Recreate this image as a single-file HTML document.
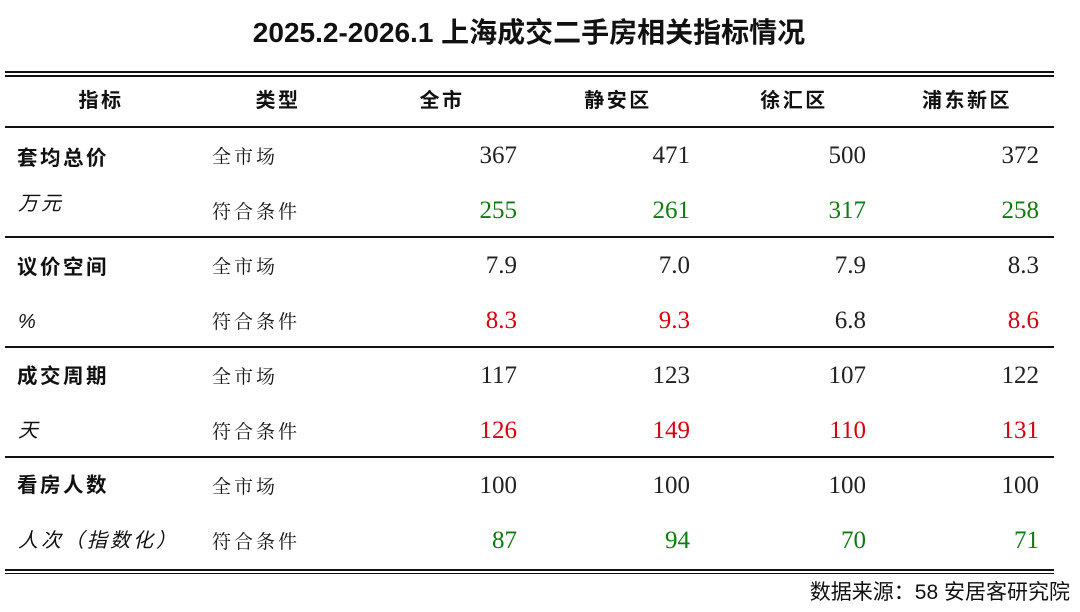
<!DOCTYPE html>
<html><head><meta charset="utf-8">
<style>
*{margin:0;padding:0;box-sizing:border-box}
html,body{width:1080px;height:612px;background:#fff;overflow:hidden}
body{position:relative;font-family:"Liberation Sans","Noto Sans CJK SC",sans-serif;color:#111}
.t{position:absolute;white-space:nowrap}
.title{left:0;width:1058px;top:14px;text-align:center;font-size:28px;font-weight:bold;line-height:38px;color:#111}
.ln{position:absolute;left:5px;width:1049px;background:#111}
.hd{font-size:20px;font-weight:bold;letter-spacing:2.5px;top:86px;line-height:30px;text-align:center;width:160px}
.lb{left:17px;font-size:20.5px;font-weight:bold;letter-spacing:2.5px;line-height:30px}
.sub{left:18px;font-size:20px;font-style:italic;letter-spacing:3px;line-height:30px}
.ty{left:212px;font-family:"Noto Serif CJK SC","Noto Sans CJK SC",serif;font-size:19px;letter-spacing:3px;line-height:30px;color:#111}
.n{font-family:"Liberation Serif",serif;font-size:25px;line-height:30px;text-align:right;width:100px;color:#222}
.g{color:#127a12}
.r{color:#d8000c}
.src{right:10px;top:579px;font-size:21px;line-height:28px;color:#111}
</style></head><body>
<div class="t title">2025.2-2026.1 上海成交二手房相关指标情况</div>

<div class="ln" style="top:71px;height:1.5px"></div>
<div class="ln" style="top:74.5px;height:2.5px"></div>
<div class="ln" style="top:126px;height:2px"></div>
<div class="ln" style="top:236px;height:2px"></div>
<div class="ln" style="top:346px;height:2px"></div>
<div class="ln" style="top:456px;height:2px"></div>
<div class="ln" style="top:568.5px;height:2.5px"></div>
<div class="ln" style="top:572.5px;height:1.5px"></div>

<div class="t hd" style="left:21px">指标</div>
<div class="t hd" style="left:198px">类型</div>
<div class="t hd" style="left:362px">全市</div>
<div class="t hd" style="left:538px">静安区</div>
<div class="t hd" style="left:714px">徐汇区</div>
<div class="t hd" style="left:887px">浦东新区</div>

<!-- group 1 -->
<div class="t lb" style="top:144px">套均总价</div>
<div class="t sub" style="top:189px">万元</div>
<div class="t ty" style="top:141px">全市场</div>
<div class="t ty" style="top:196px">符合条件</div>
<div class="t n" style="left:417px;top:141px">367</div>
<div class="t n" style="left:590px;top:141px">471</div>
<div class="t n" style="left:766px;top:141px">500</div>
<div class="t n" style="left:939px;top:141px">372</div>
<div class="t n g" style="left:417px;top:196px">255</div>
<div class="t n g" style="left:590px;top:196px">261</div>
<div class="t n g" style="left:766px;top:196px">317</div>
<div class="t n g" style="left:939px;top:196px">258</div>

<!-- group 2 -->
<div class="t lb" style="top:253px">议价空间</div>
<div class="t sub" style="top:307px">%</div>
<div class="t ty" style="top:251px">全市场</div>
<div class="t ty" style="top:306px">符合条件</div>
<div class="t n" style="left:417px;top:251px">7.9</div>
<div class="t n" style="left:590px;top:251px">7.0</div>
<div class="t n" style="left:766px;top:251px">7.9</div>
<div class="t n" style="left:939px;top:251px">8.3</div>
<div class="t n r" style="left:417px;top:306px">8.3</div>
<div class="t n r" style="left:590px;top:306px">9.3</div>
<div class="t n" style="left:766px;top:306px">6.8</div>
<div class="t n r" style="left:939px;top:306px">8.6</div>

<!-- group 3 -->
<div class="t lb" style="top:362px">成交周期</div>
<div class="t sub" style="top:416px">天</div>
<div class="t ty" style="top:361px">全市场</div>
<div class="t ty" style="top:416px">符合条件</div>
<div class="t n" style="left:417px;top:361px">117</div>
<div class="t n" style="left:590px;top:361px">123</div>
<div class="t n" style="left:766px;top:361px">107</div>
<div class="t n" style="left:939px;top:361px">122</div>
<div class="t n r" style="left:417px;top:416px">126</div>
<div class="t n r" style="left:590px;top:416px">149</div>
<div class="t n r" style="left:766px;top:416px">110</div>
<div class="t n r" style="left:939px;top:416px">131</div>

<!-- group 4 -->
<div class="t lb" style="top:471px">看房人数</div>
<div class="t sub" style="top:526px">人次（指数化）</div>
<div class="t ty" style="top:471px">全市场</div>
<div class="t ty" style="top:526px">符合条件</div>
<div class="t n" style="left:417px;top:471px">100</div>
<div class="t n" style="left:590px;top:471px">100</div>
<div class="t n" style="left:766px;top:471px">100</div>
<div class="t n" style="left:939px;top:471px">100</div>
<div class="t n g" style="left:417px;top:526px">87</div>
<div class="t n g" style="left:590px;top:526px">94</div>
<div class="t n g" style="left:766px;top:526px">70</div>
<div class="t n g" style="left:939px;top:526px">71</div>

<div class="t src">数据来源：58 安居客研究院</div>
</body></html>
